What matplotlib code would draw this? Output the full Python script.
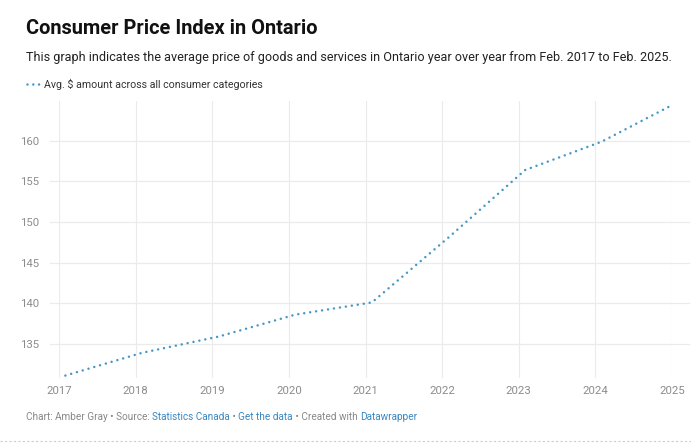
import matplotlib.pyplot as plt
from matplotlib.lines import Line2D

plt.rcParams['font.family'] = ['Roboto', 'DejaVu Sans']

# Feb of each year
years = [2017, 2018, 2019, 2020, 2021, 2022, 2023, 2024, 2025]
cpi = [131.1, 133.9, 135.9, 138.6, 140.1, 148.1, 156.4, 159.9, 164.8]
year_ticks = [2017, 2018, 2019, 2020, 2021, 2022, 2023, 2024, 2025]
y_ticks = [135, 140, 145, 150, 155, 160]

line_color = "#4497c6"
dots = (0, (0.01, 2.4))
W, H = 691, 445

fig = plt.figure(figsize=(W / 100, H / 100), dpi=100)
ax = fig.add_axes([59 / W, 1 - 378 / H, (672 - 59) / W, (378 - 101) / H])

x = [y + 1 / 12 for y in years]
ax.plot(x, cpi, color=line_color, lw=1.8, linestyle=dots,
        dash_capstyle="round", solid_capstyle="round")

ax.set_xlim(2017, 2025)
ax.set_ylim(130.8, 164.9)
ax.set_xticks(year_ticks)
ax.set_xticklabels([str(t) for t in year_ticks])
ax.set_yticks(y_ticks)
ax.tick_params(length=0, labelsize=8.2, colors="#8c8c8c", pad=6)
ax.tick_params(axis="y", pad=14)
ax.grid(True, color="#ebebeb", lw=0.8)
ax.set_axisbelow(True)
for s in ax.spines.values():
    s.set_visible(False)

# horizontal gridlines reach further left/right than the axes
for t in y_ticks:
    ax.plot([2016.88, 2025.22], [t, t], color="#ebebeb", lw=0.8, clip_on=False, zorder=0)

fig.text(26 / W, 1 - 28 / H, "Consumer Price Index in Ontario", fontsize=14.4,
         fontweight="bold", va="center", color="#111111")
fig.text(26 / W, 1 - 58 / H,
         "This graph indicates the average price of goods and services in Ontario year over year from Feb. 2017 to Feb. 2025.",
         fontsize=9.1, va="center", color="#222222")

leg = Line2D([27 / W, 40 / W], [1 - 84 / H, 1 - 84 / H], transform=fig.transFigure,
             color=line_color, lw=1.8, linestyle=(0, (0.01, 2.3)), dash_capstyle="round")
fig.add_artist(leg)
fig.text(44 / W, 1 - 84 / H, "Avg. $ amount across all consumer categories",
         fontsize=7.7, va="center", color="#333333")

# footer
parts = [("Chart: Amber Gray \u2022 Source: ", "#888888"), ("Statistics Canada", "#3a87c0"),
         (" \u2022 ", "#888888"), ("Get the data", "#3a87c0"),
         (" \u2022 Created with ", "#888888"), ("Datawrapper", "#3a87c0")]
fig.canvas.draw()
renderer = fig.canvas.get_renderer()
xpos = 26 / W
for txt, col in parts:
    t = fig.text(xpos, 1 - 417 / H, txt, fontsize=7.2, va="center", color=col)
    bb = t.get_window_extent(renderer=renderer)
    xpos += bb.width / W

sep = Line2D([0, 1], [1 - 441 / H, 1 - 441 / H], transform=fig.transFigure,
             color="#cccccc", lw=0.8, linestyle=(0, (2, 2)))
fig.add_artist(sep)

fig.savefig("out.png", dpi=100)
